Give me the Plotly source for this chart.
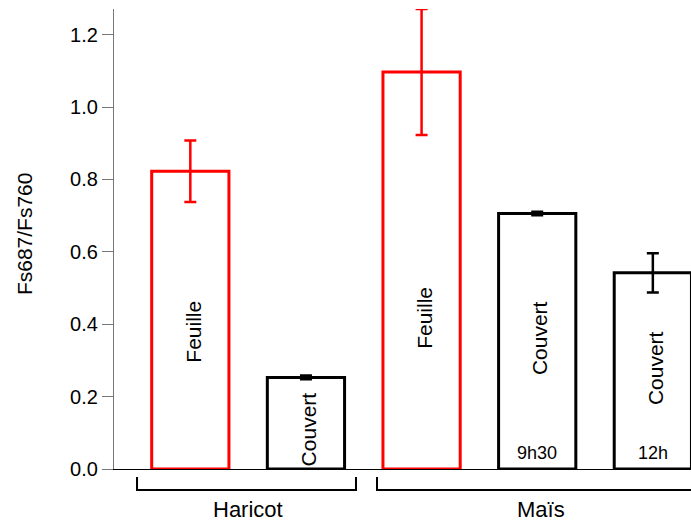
import plotly.graph_objects as go

# ---- data ----
categories = ["Feuille", "Couvert", "Feuille", "Couvert", "Couvert"]
sub_labels = ["", "", "", "9h30", "12h"]
values = [0.823, 0.253, 1.097, 0.706, 0.542]
errors = [0.085, 0.005, 0.174, 0.005, 0.054]
bar_colors = ["#ff0000", "#000000", "#ff0000", "#000000", "#000000"]
groups = ["Haricot", "Maïs"]
y_ticks = [0.0, 0.2, 0.4, 0.6, 0.8, 1.0, 1.2]
y_title = "Fs687/Fs760"

# label placement (in axis units) for the rotated in-bar texts
label_y = [0.380, 0.109, 0.419, 0.362, 0.278]
sub_label_y = 0.044

FONT = "Liberation Sans, Arial, sans-serif"

fig = go.Figure()
for i, (v, e, c) in enumerate(zip(values, errors, bar_colors)):
    fig.add_trace(go.Bar(
        x=[i], y=[v], width=0.668,
        marker=dict(color="white", line=dict(color=c, width=3)),
        error_y=dict(type="data", array=[e], color=c, thickness=2.5, width=6, visible=True),
        showlegend=False, hoverinfo="skip",
    ))

annotations = []
for i, (lab, ly) in enumerate(zip(categories, label_y)):
    annotations.append(dict(x=i + 0.025, y=ly, xref="x", yref="y", text=lab, textangle=-90,
                            xanchor="center", yanchor="middle",
                            showarrow=False, font=dict(family=FONT, size=21, color="black")))
for i, s in enumerate(sub_labels):
    if s:
        annotations.append(dict(x=i, y=sub_label_y, xref="x", yref="y", text=s,
                                xanchor="center", yanchor="middle",
                                showarrow=False, font=dict(family=FONT, size=18, color="black")))

# group labels under brackets
annotations.append(dict(x=0.232, y=-0.089, xref="paper", yref="paper", text=groups[0],
                        showarrow=False, xanchor="center", yanchor="middle",
                        font=dict(family=FONT, size=22, color="black")))
annotations.append(dict(x=0.740, y=-0.089, xref="paper", yref="paper", text=groups[1],
                        showarrow=False, xanchor="center", yanchor="middle",
                        font=dict(family=FONT, size=22, color="black")))
# y axis title
annotations.append(dict(x=-0.154, y=0.511, xref="paper", yref="paper", text=y_title,
                        textangle=-90, showarrow=False, xanchor="center", yanchor="middle",
                        font=dict(family=FONT, size=21, color="black")))

shapes = [
    dict(type="path", xref="paper", yref="paper",
         path="M 0.0399,-0.0174 L 0.0399,-0.0457 L 0.4194,-0.0457 L 0.4194,-0.0174",
         line=dict(color="black", width=2)),
    dict(type="path", xref="paper", yref="paper",
         path="M 0.4558,-0.0174 L 0.4558,-0.0457 L 1.05,-0.0457",
         line=dict(color="black", width=2)),
]

fig.update_layout(
    width=691, height=521,
    margin=dict(l=114, r=0, t=9, b=52),
    paper_bgcolor="white", plot_bgcolor="white",
    barmode="overlay",
    font=dict(family=FONT, color="black"),
    annotations=annotations, shapes=shapes,
    xaxis=dict(range=[-0.66, 4.33], showticklabels=False, ticks="", showgrid=False,
               zeroline=False, showline=True, linecolor="black", linewidth=1),
    yaxis=dict(range=[0, 1.271], tickvals=y_ticks, tickformat=".1f", ticks="outside",
               ticklen=11, tickcolor="#777777", tickwidth=1, showgrid=False, zeroline=False,
               showline=True, linecolor="#777777", linewidth=1.2,
               tickfont=dict(family=FONT, size=20, color="black")),
)

fig.write_html(
    "out.html",
    config={"displayModeBar": False},
    post_script="document.body.style.margin='0';document.body.style.overflow='hidden';",
)
